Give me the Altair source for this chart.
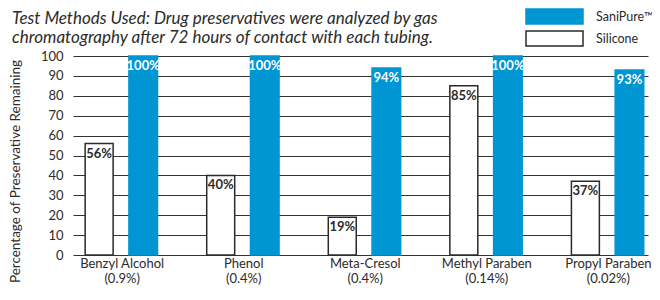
import json
import altair as alt
import pandas as pd

# ---- data ----
categories = ["Benzyl Alcohol", "Phenol", "Meta-Cresol", "Methyl Paraben", "Propyl Paraben"]
concentrations = ["(0.9%)", "(0.4%)", "(0.4%)", "(0.14%)", "(0.02%)"]
silicone = [56, 40, 19, 85, 37]
sanipure = [100, 100, 94, 100, 93]
series_names = ["SaniPure\u2122", "Silicone"]
y_ticks = [0, 10, 20, 30, 40, 50, 60, 70, 80, 90, 100]
title_lines = [
    "Test Methods Used: Drug preservatives were analyzed by gas",
    "chromatography after 72 hours of contact with each tubing.",
]

rows = []
for i, c in enumerate(categories):
    rows.append({"idx": i, "category": c, "series": series_names[1], "value": silicone[i]})
    rows.append({"idx": i, "category": c, "series": series_names[0], "value": sanipure[i]})
df = pd.DataFrame(rows)

BLUE = "#0095D3"
DARK = "#2b2b2b"
FONT = "Lato"

label_array = json.dumps([f"{c}|{p}" for c, p in zip(categories, concentrations)])

base = alt.Chart(df).transform_calculate(
    x0=f"datum.idx + (datum.series == '{series_names[1]}' ? -0.30 : 0.06)",
    x1=f"datum.idx + (datum.series == '{series_names[1]}' ? -0.07 : 0.295)",
).transform_calculate(
    xm="(datum.x0 + datum.x1) / 2",
    lbl="datum.value + '%'",
)

xscale = alt.Scale(domain=[-0.4, 4.33], nice=False, zero=False)
yscale = alt.Scale(domain=[0, 100], nice=False, zero=True)

x_axis = alt.Axis(
    values=[0, 1, 2, 3, 4],
    title=None,
    grid=False,
    ticks=False,
    domain=False,
    labelExpr=f"split({label_array}[datum.value], '|')",
    labelFont=FONT,
    labelFontSize=13,
    labelColor=DARK,
    labelPadding=2,
    labelLineHeight=15,
    labelOverlap=False,
    labelFlush=False,
    labelBaseline="top",
)

y_axis = alt.Axis(
    values=y_ticks,
    tickCount=11,
    title="Percentage of Preservative Remaining",
    titleFont=FONT,
    titleFontSize=13.5,
    titleFontWeight="normal",
    titleColor=DARK,
    titleX=-58,
    titleY=115,
    titleAngle=270,
    titleAlign="center",
    titleBaseline="middle",
    grid=True,
    gridColor="#333333",
    gridWidth=1.2,
    ticks=False,
    domain=False,
    labelFont=FONT,
    labelFontSize=13,
    labelColor=DARK,
    labelPadding=10,
    labelOverlap=False,
)

legend = alt.Legend(
    title=None,
    orient="none",
    legendX=473,
    legendY=-48,
    symbolType="M-3.8,-1L3.8,-1L3.8,1L-3.8,1Z",
    symbolSize=225,
    symbolStrokeWidth=1.5,
    labelFont=FONT,
    labelFontSize=12.5,
    labelColor=DARK,
    labelOffset=33,
    labelLimit=200,
    rowPadding=1,
)

bars = base.mark_bar(strokeWidth=1.5).encode(
    x=alt.X("x0:Q", scale=xscale, axis=x_axis),
    x2="x1:Q",
    y=alt.Y("value:Q", scale=yscale, axis=y_axis),
    y2=alt.datum(0),
    color=alt.Color(
        "series:N",
        scale=alt.Scale(domain=series_names, range=[BLUE, "#ffffff"]),
        legend=legend,
    ),
    stroke=alt.Stroke(
        "series:N",
        scale=alt.Scale(domain=series_names, range=[BLUE, DARK]),
        legend=legend,
    ),
)

labels = base.mark_text(
    baseline="top", dy=4, font=FONT, fontSize=13, fontWeight="bold"
).encode(
    x=alt.X("xm:Q", scale=xscale, axis=x_axis),
    y=alt.Y("value:Q", scale=yscale, axis=y_axis),
    text="lbl:N",
    color=alt.condition(
        f"datum.series == '{series_names[1]}'", alt.value(DARK), alt.value("#ffffff")
    ),
)

chart = (
    alt.layer(bars, labels)
    .properties(
        width=575,
        height=199,
        autosize=alt.AutoSizeParams(type="none"),
        padding={"left": 65, "top": 48, "right": 4, "bottom": 33},
        title=alt.TitleParams(
            text=title_lines,
            anchor="start",
            frame="group",
            dx=-61,
            offset=-39,
            font=FONT,
            fontSize=17,
            fontStyle="italic",
            fontWeight="normal",
            color=DARK,
            lineHeight=19,
        ),
    )
    .configure_view(stroke=None)
)

chart.save("out.html", embed_options={"renderer": "svg", "actions": False})
